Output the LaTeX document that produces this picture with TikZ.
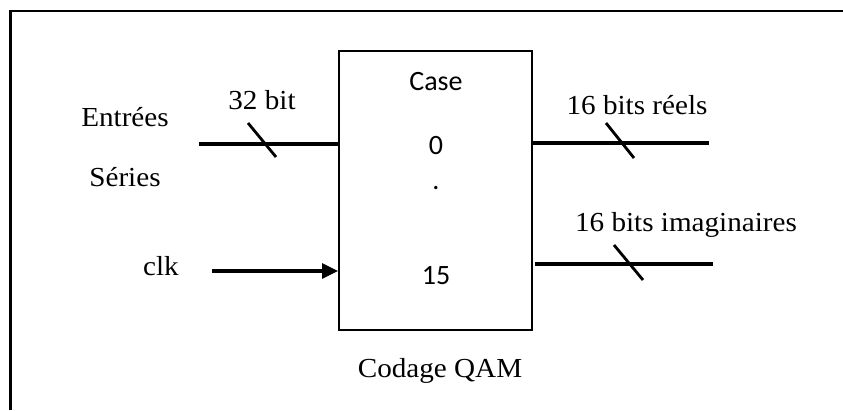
\documentclass[tikz,border=0pt]{standalone}
\usepackage{fontspec}
\setmainfont{Liberation Serif}[FakeStretch=1.06]
\newfontfamily\calib{Carlito}
\usetikzlibrary{arrows.meta}
\begin{document}
\begin{tikzpicture}[x=1pt,y=1pt,
  lbl/.style={font=\fontsize{27.5}{30}\selectfont, inner sep=0pt, anchor=base},
  clbl/.style={font=\calib\fontsize{28}{30}\selectfont, inner sep=0pt, anchor=base},
  wire/.style={line width=3.2pt},
  slash/.style={line width=2.8pt},
  blockbox/.style={draw, line width=2pt, minimum width=193pt, minimum height=279pt, inner sep=0pt}]
\useasboundingbox (0,0) rectangle (843,410);
% frame
\draw[line width=2.6pt] (10.5,0) -- (10.5,399) -- (843,399);
% block
\node[blockbox] (box) at (435.5,219.5) {};
% texts inside
\node[clbl] (case) at (436,319) {Case};
\node[clbl] (zero) at (436,255) {0};
\node[clbl] (dot) at (436,220) {.};
\node[clbl] (fifteen) at (436,125) {15};
\node[lbl] (qam) at (440,33) {Codage QAM};
% left labels
\node[lbl] (entrees) at (125,283) {Entrées};
\node[lbl] (series) at (125,223) {Séries};
\node[lbl] (clk) at (161,135) {clk};
\node[lbl] (b32) at (262,300) {32 bit};
\node[lbl] (breels) at (637,295) {16 bits réels};
\node[lbl] (bimag) at (686,178) {16 bits imaginaires};
% wire coordinates
\coordinate (inS) at (199,266);
\coordinate (clkS) at (212,139);
\coordinate (outR) at (709,267);
\coordinate (outI) at (713,146);
\coordinate (outIs) at (535,146);
% wires
\draw[wire] (inS) -- (box.west |- inS);
\draw[wire, -{Triangle[length=16pt,width=15pt]}] (clkS) -- (box.west |- clkS);
\draw[wire] (box.east |- outR) -- (outR);
\draw[wire] (outIs) -- (outI);
% slashes
\draw[slash] (248,287) -- (276,253);
\draw[slash] (606,287) -- (634,252);
\draw[slash] (614,165) -- (643,130);
\end{tikzpicture}
\end{document}
